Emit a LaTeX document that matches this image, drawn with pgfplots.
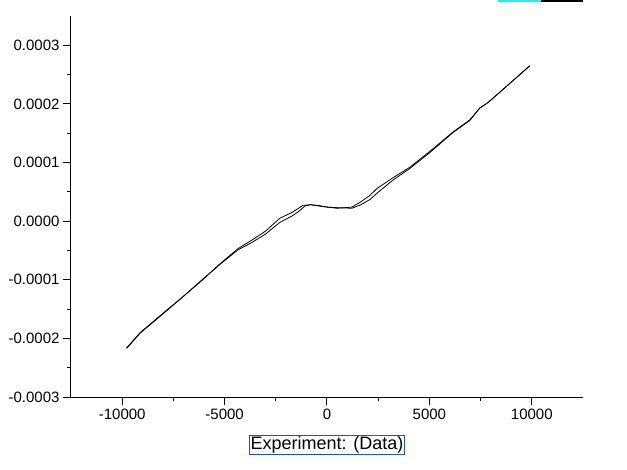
\documentclass[border=0pt]{standalone}
\usepackage{fontspec}
\setmainfont{Liberation Sans}
\usepackage{pgfplots}
\pgfplotsset{compat=1.18}
\definecolor{boxblue}{HTML}{1A4BF0}
\definecolor{legcyan}{HTML}{00FFFF}

\begin{document}
\begin{tikzpicture}
\path[use as bounding box] (-71pt,-72pt) rectangle (556pt,397pt);
\begin{axis}[
  scale only axis,
  width=512pt, height=381pt,
  xmin=-12500, xmax=12500,
  ymin=-0.0003, ymax=0.00035,
  axis x line*=bottom, axis y line*=left,
  axis line style={line width=1pt, -},
  tick align=outside,
  major tick length=8pt, minor tick length=4pt,
  every tick/.style={line width=1pt, black},
  xtick={-10000,-5000,0,5000,10000},
  ytick={-0.0003,-0.0002,-0.0001,0,0.0001,0.0002,0.0003},
  minor x tick num=1, minor y tick num=1,
  scaled y ticks=false, scaled x ticks=false,
  /pgf/number format/assume math mode=true,
  xticklabel style={font=\fontsize{15}{15}\selectfont,
    /pgf/number format/1000 sep={}},
  yticklabel style={font=\fontsize{15}{15}\selectfont,
    /pgf/number format/fixed, /pgf/number format/fixed zerofill,
    /pgf/number format/precision=4},
  xlabel={Experiment: (Data)},
  xlabel style={font=\fontsize{18}{18}\selectfont, draw=boxblue,
    line width=0.8pt, inner sep=1.5pt,
    at={(axis description cs:0.5,0)}, anchor=center, yshift=-48pt},
]
% forward sweep
\addplot[black, line width=0.8pt] coordinates {
  (-9780,-2.17e-4) (-9120,-1.91e-4) (-7800,-1.52e-4) (-7070,-1.30e-4)
  (-6100,-1.01e-4) (-5200,-0.72e-4) (-4350,-0.47e-4) (-3700,-0.33e-4)
  (-3000,-0.17e-4) (-2300,0.05e-4) (-1700,0.15e-4) (-1170,0.27e-4)
  (-800,0.28e-4) (-440,0.27e-4) (0,0.24e-4) (490,0.22e-4)
  (1220,0.24e-4) (1650,0.33e-4) (2100,0.44e-4) (2450,0.56e-4)
  (3220,0.74e-4) (4050,0.92e-4) (5020,1.19e-4) (6150,1.52e-4)
  (6980,1.73e-4) (7460,1.93e-4) (7850,2.02e-4) (8440,2.20e-4)
  (9900,2.65e-4)
};
% reverse sweep
\addplot[black, line width=0.8pt] coordinates {
  (-9780,-2.16e-4) (-9120,-1.90e-4) (-7800,-1.51e-4) (-7070,-1.30e-4)
  (-6100,-1.00e-4) (-5200,-0.73e-4) (-4350,-0.49e-4) (-3700,-0.37e-4)
  (-3000,-0.22e-4) (-2300,-0.02e-4) (-1700,0.09e-4) (-1400,0.16e-4)
  (-1070,0.26e-4) (-800,0.28e-4) (-440,0.26e-4) (0,0.24e-4)
  (490,0.23e-4) (1220,0.22e-4) (1650,0.28e-4) (2100,0.37e-4)
  (2450,0.48e-4) (3220,0.70e-4) (4050,0.90e-4) (5020,1.17e-4)
  (6150,1.51e-4) (6980,1.72e-4) (7460,1.93e-4) (7850,2.02e-4)
  (8440,2.20e-4) (9900,2.65e-4)
};
\end{axis}
% legend fragment at the top edge
\draw[legcyan, line width=2pt] (427pt,396pt) -- (470pt,396pt);
\draw[black, line width=2pt] (470pt,396pt) -- (512pt,396pt);
\end{tikzpicture}
\end{document}
